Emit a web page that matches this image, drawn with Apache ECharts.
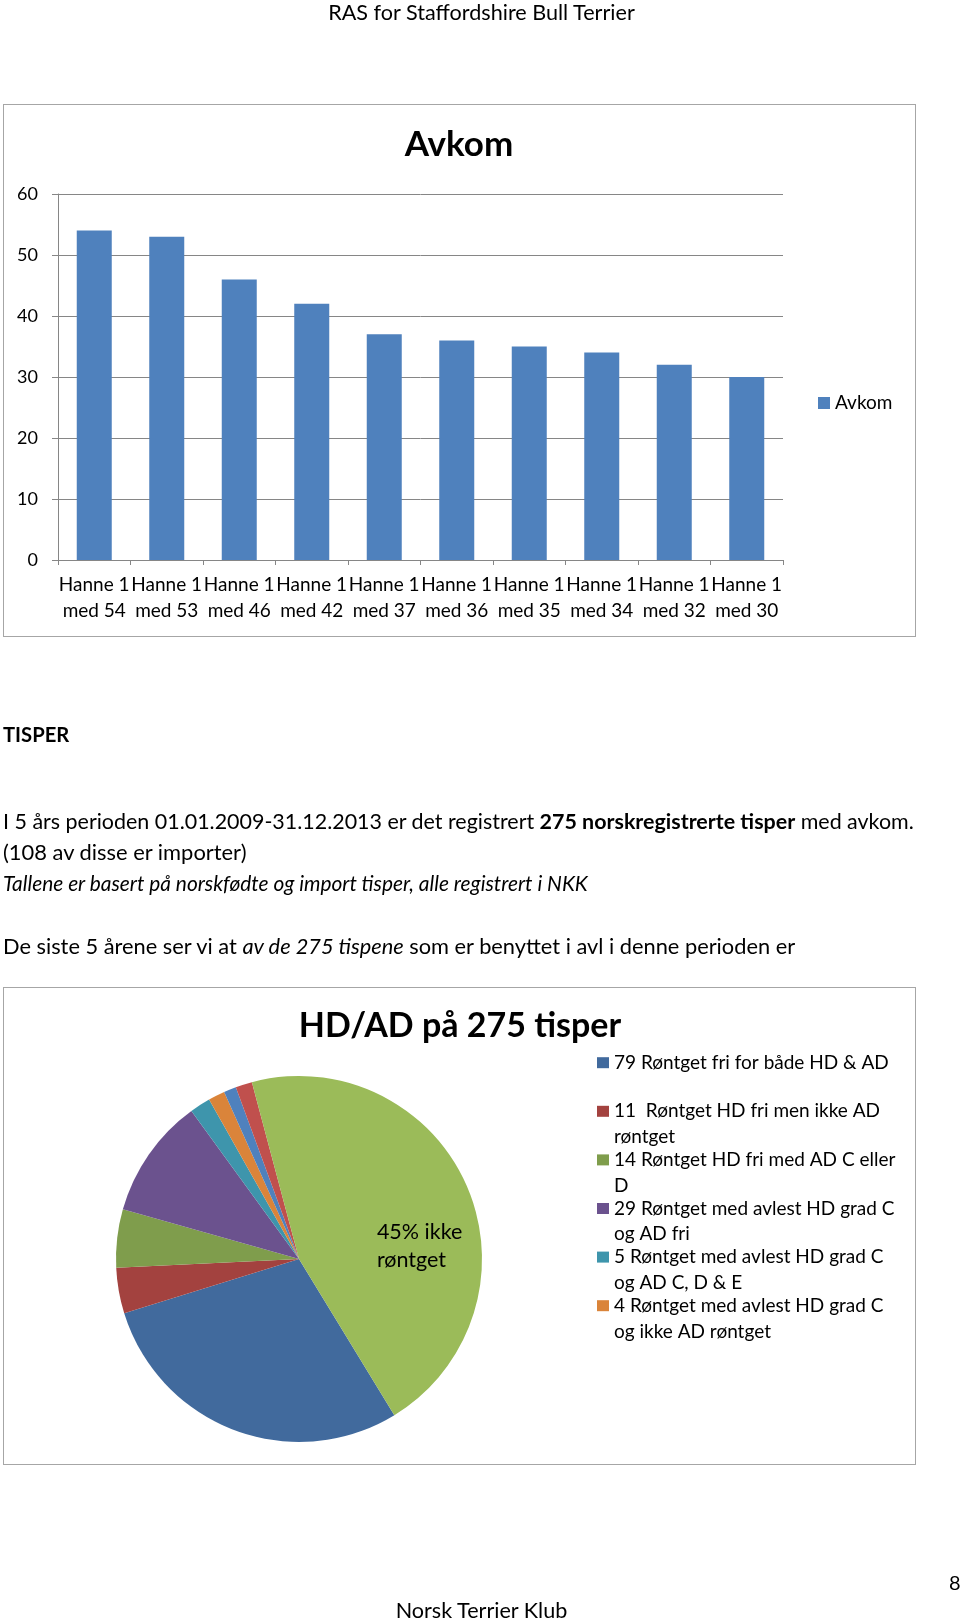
<!DOCTYPE html>
<html><head><meta charset="utf-8">
<script src="https://cdn.jsdelivr.net/npm/echarts@6/dist/echarts.min.js"></script>
<style>
html,body{margin:0;padding:0;background:#fff;}
body{width:960px;height:1620px;position:relative;overflow:hidden;font-family:Lato,'Noto Sans',sans-serif;color:#000;}
.t{position:absolute;white-space:nowrap;line-height:26px;font-size:21.5px;}
.frame{position:absolute;border:1.5px solid #a6a6a6;box-sizing:border-box;}
#chart{position:absolute;left:0;top:0;width:960px;height:1620px;}
</style></head>
<body>
<div class="frame" style="left:3px;top:104px;width:913px;height:533px"></div>
<div class="frame" style="left:3px;top:987px;width:913px;height:478px"></div>
<div id="chart"></div>
<div class="t" style="left:0;width:963px;text-align:center;top:-1px;font-size:21.6px">RAS for Staffordshire Bull Terrier</div>
<div class="t" style="left:3px;top:721px;font-weight:bold;font-size:20.2px">TISPER</div>
<div class="t" style="left:3px;top:808px;font-size:21.45px">I 5 års perioden 01.01.2009-31.12.2013 er det registrert <b>275 norskregistrerte tisper</b> med avkom.</div>
<div class="t" style="left:3px;top:839px;font-size:21.9px">(108 av disse er importer)</div>
<div class="t" style="left:3px;top:870px;font-style:italic;font-size:20.9px">Tallene er basert på norskfødte og import tisper, alle registrert i NKK</div>
<div class="t" style="left:3px;top:933px;font-size:21.8px">De siste 5 årene ser vi at <i>av de 275 tispene</i> som er benyttet i avl i denne perioden er</div>
<div class="t" style="left:0;width:963px;text-align:center;top:1597px;font-size:21.6px">Norsk Terrier Klub</div>
<div class="t" style="left:949px;top:1569px;font-size:20px">8</div>
<script>
// ---- data ----
const barCategories = ['Hanne 1 med 54','Hanne 1 med 53','Hanne 1 med 46','Hanne 1 med 42','Hanne 1 med 37','Hanne 1 med 36','Hanne 1 med 35','Hanne 1 med 34','Hanne 1 med 32','Hanne 1 med 30'];
const barValues = [54, 53, 46, 42, 37, 36, 35, 34, 32, 30];
const barSeriesName = 'Avkom';
const yTicks = [0, 10, 20, 30, 40, 50, 60];

const pieNames = [
  '79 Røntget fri for både HD & AD',
  '11  Røntget HD fri men ikke AD røntget',
  '14 Røntget HD fri med AD C eller D',
  '29 Røntget med avlest HD grad C og AD fri',
  '5 Røntget med avlest HD grad C og AD C, D & E',
  '4 Røntget med avlest HD grad C og ikke AD røntget',
  'Øvrige A',
  'Øvrige B',
  '45% ikke røntget'
];
const pieValues = [79, 11, 14, 29, 5, 4, 3, 4, 124];
const pieLegendNames = pieNames.slice(0, 6);
const pieLegendLines = {
  '79 Røntget fri for både HD & AD': ['79 Røntget fri for både HD & AD', ' '],
  '11  Røntget HD fri men ikke AD røntget': ['11  Røntget HD fri men ikke AD', 'røntget'],
  '14 Røntget HD fri med AD C eller D': ['14 Røntget HD fri med AD C eller', 'D'],
  '29 Røntget med avlest HD grad C og AD fri': ['29 Røntget med avlest HD grad C', 'og AD fri'],
  '5 Røntget med avlest HD grad C og AD C, D & E': ['5 Røntget med avlest HD grad C', 'og AD C, D & E'],
  '4 Røntget med avlest HD grad C og ikke AD røntget': ['4 Røntget med avlest HD grad C', 'og ikke AD røntget']
};
const pieLabelName = '45% ikke røntget';
const pieLabelLines = ['45% ikke', 'røntget'];

// ---- styles ----
const pieColors = ['#416A9D', '#A3423F', '#7F9D4C', '#6B528E', '#3E95AC', '#DA843A', '#4F81BD', '#C0504D', '#9BBB59'];
const axisGray = '#868686';
const FONT = 'Lato';
const LEG_LH = 25.8;

const chart = echarts.init(document.getElementById('chart'), null, {renderer: 'canvas', width: 960, height: 1620});
chart.setOption({
  backgroundColor: 'transparent',
  animation: false,
  textStyle: {fontFamily: FONT, color: '#000'},
  title: [
    {text: 'Avkom', left: 459, top: 145, textAlign: 'center', textVerticalAlign: 'middle', padding: 0,
     textStyle: {fontSize: 35, fontWeight: 'bold', color: '#000', fontFamily: FONT}},
    {text: 'HD/AD på 275 tisper', left: 460, top: 1026, textAlign: 'center', textVerticalAlign: 'middle', padding: 0,
     textStyle: {fontSize: 34, fontWeight: 'bold', color: '#000', fontFamily: FONT}}
  ],
  legend: [
    {data: [barSeriesName], left: 818, top: 391, orient: 'vertical', icon: 'rect', itemWidth: 12, itemHeight: 12,
     padding: 0, selectedMode: false, textStyle: {fontSize: 19, lineHeight: 24, color: '#000', fontFamily: FONT}},
    {data: pieLegendNames, left: 597, top: 1024, orient: 'vertical', icon: 'rect', itemWidth: 12, itemHeight: 11,
     itemGap: 48.6 - 3 * LEG_LH, padding: 0, selectedMode: false,
     // blank first line so the marker sits beside the first text line
     formatter: n => [' '].concat(pieLegendLines[n] || [n, ' ']).join('\n'),
     textStyle: {fontSize: 19, lineHeight: LEG_LH, color: '#000', fontFamily: FONT}}
  ],
  grid: [{left: 58, top: 194, width: 725, height: 366, containLabel: false, outerBoundsMode: 'none'}],
  xAxis: [{
    type: 'category', gridIndex: 0, data: barCategories,
    axisLine: {show: true, lineStyle: {color: axisGray, width: 1}},
    axisTick: {show: true, length: 5, alignWithLabel: false, lineStyle: {color: axisGray}},
    splitLine: {show: false},
    axisLabel: {interval: 0, color: '#000', fontSize: 19, lineHeight: 26, margin: 12, fontFamily: FONT,
      formatter: v => v.replace(' med', '\nmed')}
  }],
  yAxis: [{
    type: 'value', gridIndex: 0, min: yTicks[0], max: yTicks[yTicks.length - 1], interval: yTicks[1] - yTicks[0],
    axisLine: {show: true, lineStyle: {color: axisGray, width: 1}},
    axisTick: {show: true, length: 6, lineStyle: {color: axisGray}},
    splitLine: {show: true, lineStyle: {color: axisGray, width: 1}},
    axisLabel: {color: '#000', fontSize: 18, margin: 20, fontFamily: FONT}
  }],
  series: [
    {type: 'bar', name: barSeriesName, xAxisIndex: 0, yAxisIndex: 0, data: barValues, barWidth: 35,
     itemStyle: {color: '#4F81BD'}, silent: true},
    {type: 'pie', name: 'HD/AD', center: [299, 1259], radius: 183, startAngle: -58.6, clockwise: true,
     avoidLabelOverlap: false, silent: true, padAngle: 0,
     itemStyle: {borderWidth: 0},
     labelLine: {show: false},
     emphasis: {disabled: true},
     label: {show: false},
     data: pieNames.map((n, i) => ({
       name: n, value: pieValues[i], itemStyle: {color: pieColors[i], borderWidth: 0},
       label: n === pieLabelName ? {
         show: true, position: 'inside', color: '#000',
         formatter: () => pieLabelLines.map(l => '{a|' + l + '}').join('\n'),
         padding: [48, 0, 0, 68],
         rich: {a: {width: 86, align: 'left', fontSize: 21.5, lineHeight: 28, color: '#000', fontFamily: FONT}}
       } : {show: false}
     }))}
  ]
});
</script>
</body></html>
